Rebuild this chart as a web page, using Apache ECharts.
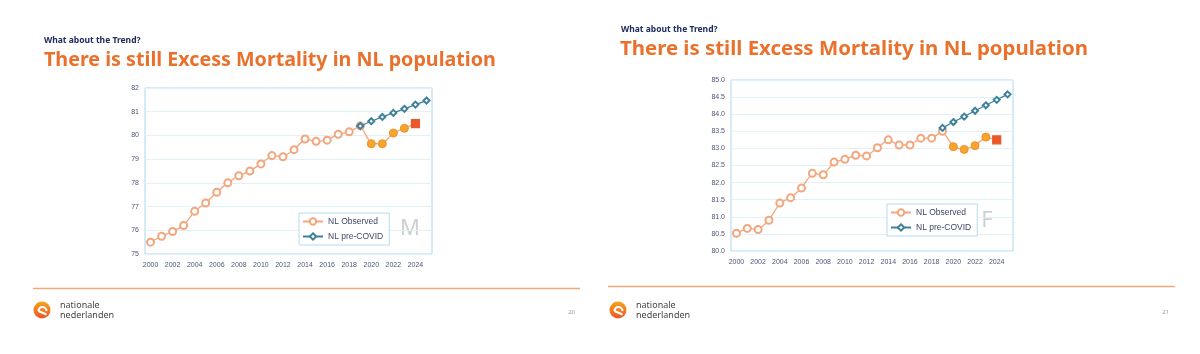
<!DOCTYPE html>
<html>
<head>
<meta charset="utf-8">
<script src="https://cdn.jsdelivr.net/npm/echarts@6/dist/echarts.min.js"></script>
<style>
  html, body { margin: 0; padding: 0; background: #fff; }
  #chart { width: 1200px; height: 354px; }
</style>
</head>
<body>
<div id="chart"></div>
<script>
// 年份（类目轴）
var years = ['2000', '2001', '2002', '2003', '2004', '2005', '2006', '2007', '2008', '2009',
    '2010', '2011', '2012', '2013', '2014', '2015', '2016', '2017', '2018', '2019',
    '2020', '2021', '2022', '2023', '2024', '2025'];

// 男性 M
var mObserved = [75.5, 75.75, 75.95, 76.2, 76.8, 77.15, 77.6, 78.0, 78.3, 78.5,
    78.8, 79.15, 79.1, 79.4, 79.85, 79.75, 79.8, 80.05, 80.15, 80.4,
    79.65, 79.65, 80.1, 80.3, 80.5];
var mPreCovidYears = ['2019', '2020', '2021', '2022', '2023', '2024', '2025'];
var mPreCovid = [80.4, 80.6, 80.78, 80.95, 81.12, 81.3, 81.47];

// 女性 F
var fObserved = [80.52, 80.66, 80.63, 80.9, 81.4, 81.56, 81.84, 82.27, 82.23, 82.6,
    82.68, 82.8, 82.78, 83.02, 83.25, 83.1, 83.1, 83.3, 83.3, 83.5,
    83.05, 82.97, 83.08, 83.33, 83.25];
var fPreCovid = [83.6, 83.77, 83.93, 84.1, 84.26, 84.42, 84.58];

var mTicks = ['75', '76', '77', '78', '79', '80', '81', '82'];
var fTicks = ['80.0', '80.5', '81.0', '81.5', '82.0', '82.5', '83.0', '83.5', '84.0', '84.5', '85.0'];

var covidYears = ['2020', '2021', '2022', '2023'];
var lastYear = '2024';

var ORANGE_LINE = '#f3a67c';
var TEAL = '#3f8198';
var LABEL = '#4d5877';

function observedData(vals) {
    return vals.map(function (v, i) {
        var y = years[i];
        if (covidYears.indexOf(y) >= 0) {
            return { value: v, symbol: 'circle', symbolSize: 8,
                itemStyle: { color: '#f6a62a', borderColor: '#f0902a', borderWidth: 1 } };
        }
        if (y === lastYear) {
            return { value: v, symbol: 'rect', symbolSize: 8,
                itemStyle: { color: '#e9582b', borderColor: '#e9582b' } };
        }
        return v;
    });
}

function preCovidData(vals) {
    return years.map(function (y) {
        var k = mPreCovidYears.indexOf(y);
        return k >= 0 ? vals[k] : null;
    });
}

var chart = echarts.init(document.getElementById('chart'));

function xAxisFor(idx) {
    return {
        type: 'category', gridIndex: idx, data: years, boundaryGap: true,
        axisLine: { show: false }, axisTick: { show: false },
        axisLabel: { interval: 1, color: LABEL, fontSize: 7, margin: 8, fontFamily: 'Liberation Sans' }
    };
}

function yAxisFor(idx, min, max, step, ticks) {
    return {
        type: 'value', gridIndex: idx, min: min, max: max, interval: step,
        axisLine: { show: false }, axisTick: { show: false },
        splitLine: { lineStyle: { color: '#e2f0f7', width: 1 } },
        axisLabel: {
            color: LABEL, fontSize: 7, margin: 6, fontFamily: 'Liberation Sans',
            formatter: function (v) { return ticks[Math.round((v - min) / step)]; }
        }
    };
}

function legendAt(left, top) {
    return {
        left: left, top: top, orient: 'vertical', itemGap: 6,
        itemWidth: 20, itemHeight: 8,
        padding: [4, 6, 4, 3],
        borderColor: '#b5dcef', borderWidth: 1, backgroundColor: '#fff',
        textStyle: { fontSize: 8.5, color: '#3d4666', fontFamily: 'Liberation Sans' },
        data: ['NL Observed', 'NL pre-COVID']
    };
}

function seriesFor(idx, obs, pre) {
    return [
        {
            name: 'NL Observed', type: 'line', xAxisIndex: idx, yAxisIndex: idx,
            data: observedData(obs), smooth: 0.08, showAllSymbol: true,
            symbol: 'emptyCircle', symbolSize: 7,
            lineStyle: { color: ORANGE_LINE, width: 1.3 },
            itemStyle: { color: ORANGE_LINE, borderColor: ORANGE_LINE, borderWidth: 1.2 },
            z: 3
        },
        {
            name: 'NL pre-COVID', type: 'line', xAxisIndex: idx, yAxisIndex: idx,
            data: preCovidData(pre), connectNulls: false, showAllSymbol: true,
            symbol: 'emptyDiamond', symbolSize: 6,
            lineStyle: { color: TEAL, width: 1.2 },
            itemStyle: { color: TEAL, borderColor: TEAL, borderWidth: 1 },
            z: 4
        }
    ];
}

function txt(x, y, text, size, color, weight, align) {
    return {
        type: 'text', x: x, y: y,
        style: {
            text: text, fill: color, fontSize: size, fontWeight: weight || 'normal',
            fontFamily: 'Noto Sans', align: align || 'left', verticalAlign: 'middle'
        }
    };
}

function logo(cx, cy, tx) {
    return [
        {
            type: 'circle', shape: { cx: cx, cy: cy, r: 8.5 },
            style: { fill: new echarts.graphic.LinearGradient(0, 0, 0, 1, [
                { offset: 0, color: '#f7a41c' }, { offset: 1, color: '#e8552a' }]) }
        },
        {
            type: 'arc', shape: { cx: cx + 0.5, cy: cy + 1, r: 4, startAngle: Math.PI, endAngle: 0 },
            style: { stroke: '#fff', lineWidth: 2.2, fill: null }
        },
        {
            type: 'line', shape: { x1: cx - 3.5, y1: cy + 1, x2: cx + 4.5, y2: cy + 4.5 },
            style: { stroke: '#fff', lineWidth: 2 }
        },
        txt(tx, cy - 5, 'nationale', 9, '#444'),
        txt(tx, cy + 5, 'nederlanden', 9, '#444')
    ];
}

var graphics = [
    // left slide
    txt(44, 41, 'What about the Trend?', 8.5, '#1f2a60', 'bold'),
    txt(44, 60, 'There is still Excess Mortality in NL population', 19.7, '#e9712c', 'bold'),
    txt(400, 229, 'M', 22, '#cfcfcf'),
    { type: 'line', shape: { x1: 33, y1: 288.5, x2: 580, y2: 288.5 }, style: { stroke: '#f4a97a', lineWidth: 1.5 } },
    txt(575, 312, '20', 6, '#999', 'normal', 'right'),
    // right slide
    txt(621, 30, 'What about the Trend?', 8.5, '#1f2a60', 'bold'),
    txt(620, 49, 'There is still Excess Mortality in NL population', 20.4, '#e9712c', 'bold'),
    txt(987, 221, 'F', 22, '#cfcfcf', 'normal', 'center'),
    { type: 'line', shape: { x1: 608, y1: 286.5, x2: 1175, y2: 286.5 }, style: { stroke: '#f4a97a', lineWidth: 1.5 } },
    txt(1169, 312, '21', 6, '#999', 'normal', 'right')
].concat(logo(42, 310, 60)).concat(logo(618, 310, 636));

var option = {
    backgroundColor: '#fff',
    animation: false,
    grid: [
        { left: 145, top: 88, width: 287, height: 166, show: true, borderColor: '#a9d8ee', borderWidth: 1, backgroundColor: 'transparent' },
        { left: 731, top: 80, width: 282, height: 171, show: true, borderColor: '#a9d8ee', borderWidth: 1, backgroundColor: 'transparent' }
    ],
    xAxis: [xAxisFor(0), xAxisFor(1)],
    yAxis: [yAxisFor(0, 75, 82, 1, mTicks), yAxisFor(1, 80, 85, 0.5, fTicks)],
    legend: [legendAt(299, 213), legendAt(887, 204)],
    series: seriesFor(0, mObserved, mPreCovid).concat(seriesFor(1, fObserved, fPreCovid)),
    graphic: graphics
};

chart.setOption(option);
</script>
</body>
</html>
